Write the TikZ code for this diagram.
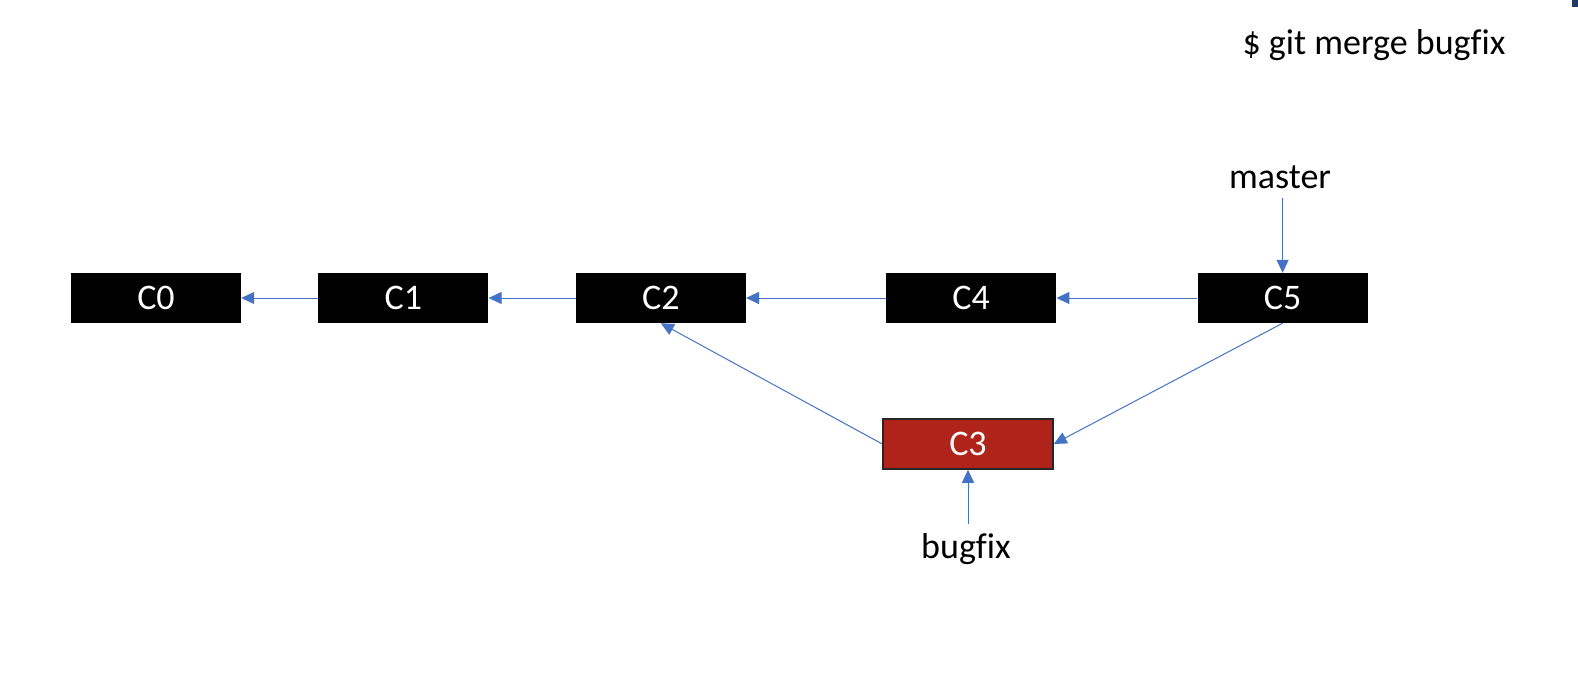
\documentclass[tikz,border=0pt]{standalone}
\usepackage{fontspec}
\setmainfont{Carlito}[Ligatures=CommonOff]
\usetikzlibrary{arrows.meta,positioning}
\definecolor{LinkBlue}{HTML}{4472C4}
\definecolor{FixRed}{HTML}{B0231A}
\definecolor{CornerNavy}{HTML}{203864}

\begin{document}
\begin{tikzpicture}[x=1pt,y=-1pt,
    every node/.style={font=\fontsize{36}{43}\selectfont},
    commit/.style={rectangle,fill=black,text=white,
                   minimum width=170pt,minimum height=50pt,inner sep=0pt},
    link/.style={-{Triangle[length=13pt,width=12pt]},LinkBlue,line width=1pt}]
  \useasboundingbox (0,0) rectangle (1578,672);
  \fill[CornerNavy] (1572,0) rectangle (1578,7);
  % commits on master
  \node[commit] (c0) at (156,298) {C0};
  \node[commit,right=77pt of c0] (c1) {C1};
  \node[commit,right=87pt of c1] (c2) {C2};
  \node[commit,right=140pt of c2] (c4) {C4};
  \node[commit,right=141pt of c4] (c5) {C5};
  % commit on bugfix
  \node[commit,fill=FixRed,draw=black!85,line width=1.5pt] (c3) at (968,444) {C3};
  % labels
  \node (cmd) at (1374,45) {\$ git merge bugfix};
  \node (master) at (1280,177) {master};
  \node (bugfix) at (966,549) {bugfix};
  % parents
  \draw[link] (c1.west) -- (c0.east);
  \draw[link] (c2.west) -- (c1.east);
  \draw[link] (c4.west) -- (c2.east);
  \draw[link] (c5.west) -- (c4.east);
  \draw[link] (c5.south) -- (c3.east);
  \draw[link] (c3.west) -- (c2.south);
  \draw[link,shorten <=6pt] (master.south -| c5.north) -- (c5.north);
  \draw[link,shorten <=6pt] (bugfix.north -| c3.south) -- (c3.south);
\end{tikzpicture}
\end{document}
